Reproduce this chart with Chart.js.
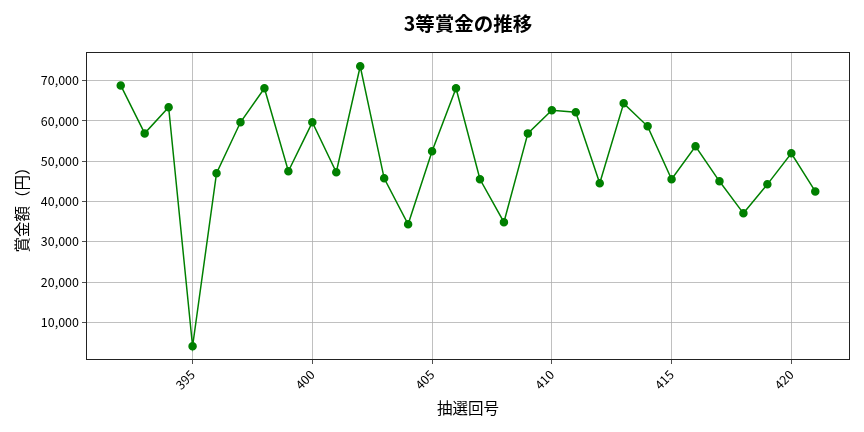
<!DOCTYPE html>
<html><head><meta charset="utf-8">
<script src="https://cdn.jsdelivr.net/npm/chart.js@4/dist/chart.umd.min.js"></script>
<style>html,body{margin:0;padding:0;background:#fff}#wrap{width:864px;height:432px}</style>
</head><body><div id="wrap"><canvas id="c" width="864" height="432"></canvas></div>
<script>
const draws = [392,393,394,395,396,397,398,399,400,401,402,403,404,405,406,407,408,409,410,411,412,413,414,415,416,417,418,419,420,421];
const prizes = [68800,56900,63400,4050,47000,59650,68100,47500,59650,47250,73550,45750,34350,52450,68100,45500,34850,56900,62650,62150,44500,64350,58650,45500,53700,45000,37050,44250,51950,42500];
const xTicks = [395,400,405,410,415,420];
const yTicks = [10000,20000,30000,40000,50000,60000,70000];
const FONT = "'Noto Sans CJK JP','Noto Sans',sans-serif";

const frame = {
  id:'frame',
  afterDraw(chart){
    const a = chart.chartArea, ctx = chart.ctx;
    ctx.save(); ctx.strokeStyle='#222'; ctx.lineWidth=1;
    ctx.strokeRect(Math.round(a.left)+0.5, Math.round(a.top)+0.5, Math.round(a.right-a.left)-1, Math.round(a.bottom-a.top)-1);
    ctx.restore();
  }
};

new Chart(document.getElementById('c'), {
  type:'line',
  data:{ datasets:[{
    data: draws.map((d,i)=>({x:d,y:prizes[i]})),
    borderColor:'#008000', backgroundColor:'#008000',
    borderWidth:1.5, pointRadius:3.5, pointHoverRadius:3.5, tension:0, fill:false
  }]},
  options:{
    responsive:false, animation:false, devicePixelRatio:1,
    layout:{padding:{left:0,right:14,top:0,bottom:0}},
    plugins:{
      legend:{display:false}, tooltip:{enabled:false},
      title:{display:true, fullSize:false, text:'3等賞金の推移', color:'#000',
        font:{family:FONT,size:19.5,weight:'bold',lineHeight:1.2}, padding:{top:12,bottom:16.6}}
    },
    scales:{
      x:{type:'linear', min:390.55, max:422.45,
        afterBuildTicks(s){ s.ticks = xTicks.map(v=>({value:v})); },
        afterFit(s){ s.height = 72; },
        ticks:{color:'#000', font:{family:FONT,size:12.5}, minRotation:45, maxRotation:45, padding:3},
        grid:{color:'#b0b0b0', lineWidth:0.8, drawTicks:true, tickLength:4, tickColor:'#222'},
        border:{display:false},
        title:{display:true, text:'抽選回号', color:'#000', font:{family:FONT,size:15.5}, padding:{top:2,bottom:15}}
      },
      y:{type:'linear', min:647, max:77100,
        afterBuildTicks(s){ s.ticks = yTicks.map(v=>({value:v})); },
        afterFit(s){ s.width = 86; },
        ticks:{color:'#000', font:{family:FONT,size:12.5}, padding:3,
          callback:v=>Number(v).toLocaleString('en-US')},
        grid:{color:'#b0b0b0', lineWidth:0.8, drawTicks:true, tickLength:4, tickColor:'#222'},
        border:{display:false},
        title:{display:true, text:'賞金額（円）', color:'#000', font:{family:FONT,size:15.5}, padding:{top:13,bottom:0}}
      }
    }
  },
  plugins:[frame]
});
</script></body></html>
